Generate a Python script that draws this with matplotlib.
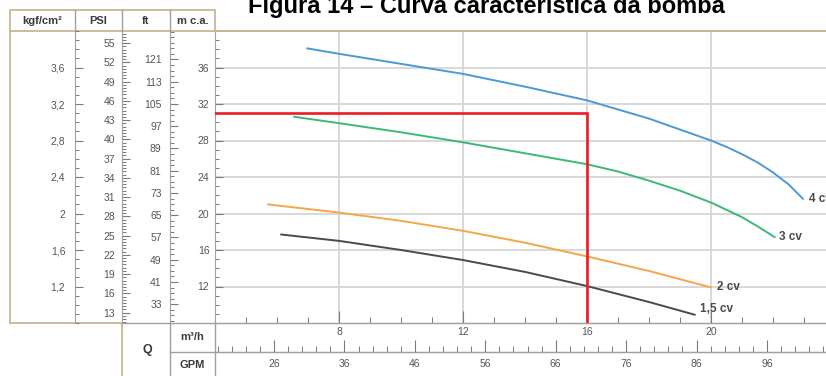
import matplotlib
matplotlib.use("Agg")
import matplotlib.pyplot as plt
import numpy as np
from matplotlib.ticker import FixedLocator

plt.rcParams['font.family'] = ['Liberation Sans', 'DejaVu Sans']

# ---------------- data ----------------
title = "Figura 14 – Curva característica da bomba"

q_4cv = [6.97, 8, 10, 12, 14, 16, 18, 19, 20, 20.5, 21, 21.5, 22.0, 22.5, 22.97]
h_4cv = [38.1, 37.5, 36.4, 35.3, 33.9, 32.4, 30.4, 29.2, 28.0, 27.3, 26.5, 25.6, 24.5, 23.2, 21.6]

q_3cv = [6.55, 8, 10, 12, 14, 16, 17, 18, 19, 20, 20.5, 21, 21.5, 22.06]
h_3cv = [30.6, 29.9, 28.9, 27.8, 26.6, 25.4, 24.6, 23.6, 22.5, 21.2, 20.4, 19.6, 18.6, 17.4]

q_2cv = [5.71, 8, 10, 12, 14, 16, 18, 20]
h_2cv = [21.0, 20.1, 19.2, 18.1, 16.8, 15.3, 13.7, 11.9]

q_15cv = [6.13, 8, 10, 12, 14, 16, 18, 19.48]
h_15cv = [17.7, 17.0, 16.0, 14.9, 13.6, 12.05, 10.3, 8.9]

curve_labels = ["4 cv", "3 cv", "2 cv", "1,5 cv"]
curve_colors = ["#4a9ad6", "#3cb878", "#f7a548", "#4a4a4a"]

op_q, op_h = 16, 31          # operating point (red lines)

m_ticks = [12, 16, 20, 24, 28, 32, 36]
kgf_ticks = [1.2, 1.6, 2.0, 2.4, 2.8, 3.2, 3.6]
kgf_labels = ["1,2", "1,6", "2", "2,4", "2,8", "3,2", "3,6"]
psi_ticks = [13, 16, 19, 22, 25, 28, 31, 34, 37, 40, 43, 46, 49, 52, 55]
ft_ticks = [33, 41, 49, 57, 65, 73, 81, 89, 97, 105, 113, 121]
q_ticks = [8, 12, 16, 20]
gpm_ticks = [26, 36, 46, 56, 66, 76, 86, 96]

M_PER_KGF = 10.0
M_PER_PSI = 0.70307
M_PER_FT = 0.3048
M3H_PER_GPM = 0.227125

# ---------------- layout ----------------
W, H = 826, 376
fig = plt.figure(figsize=(W / 100, H / 100), dpi=100)
fig.patch.set_facecolor("white")


def rect(x0, y0, x1, y1):
    return [x0 / W, 1 - y1 / H, (x1 - x0) / W, (y1 - y0) / H]


TAN = "#c8b896"
GREY = "#a0a0a0"
TICK = "#7a7a7a"
LAB = "#555555"
HEAD = "#3a3a3a"

# background frame lines
bg = fig.add_axes([0, 0, 1, 1], zorder=-10)
bg.set_xlim(0, W)
bg.set_ylim(H, 0)
bg.axis("off")
bg.plot([10, 10, 215, 215], [323, 10, 10, 31], color=TAN, lw=1.3)
bg.plot([10, 122, 122], [323, 323, 376], color=TAN, lw=1.3)
bg.plot([10, W], [31, 31], color=TAN, lw=1.3)
for xc in (75, 122, 170):
    bg.plot([xc, xc], [10, 31], color=GREY, lw=1.0)
bg.plot([122, W], [323, 323], color=GREY, lw=1.0)
bg.plot([170, 170], [323, 376], color=GREY, lw=1.0)
bg.plot([215, 215], [323, 376], color=GREY, lw=1.0)
bg.plot([170, W], [352, 352], color=GREY, lw=1.0)

# header texts
hk = dict(ha="center", va="center", fontsize=8, fontweight="bold", color=HEAD)
fig.text(42 / W, 1 - 21 / H, "kgf/cm²", **hk)
fig.text(98 / W, 1 - 21 / H, "PSI", **hk)
fig.text(146 / W, 1 - 21 / H, "ft", **hk)
fig.text(193 / W, 1 - 21 / H, "m c.a.", **hk)
fig.text(147 / W, 1 - 350 / H, "Q", ha="center", va="center", fontsize=9,
         fontweight="bold", color=HEAD)
fig.text(192 / W, 1 - 337 / H, "m³/h", **hk)
fig.text(192 / W, 1 - 365 / H, "GPM", **hk)

fig.text(486 / W, 1 - 13 / H, title, ha="center", va="baseline", fontsize=17,
         fontweight="bold", color="black")

YLIM = (8, 40)
XLIM = (4, 4 + 611 / 31)


def scale_axes(r, major_m, labels, minor_m, pad):
    a = fig.add_axes(r)
    a.set_facecolor("none")
    a.set_ylim(*YLIM)
    a.set_xticks([])
    for s in ("top", "right", "bottom"):
        a.spines[s].set_visible(False)
    a.spines["left"].set_color(GREY)
    a.yaxis.set_major_locator(FixedLocator(major_m))
    a.yaxis.set_minor_locator(FixedLocator(minor_m))
    a.set_yticklabels(labels)
    a.tick_params(axis="y", which="major", direction="in", length=6, width=0.8,
                  color=TICK, labelsize=7.5, labelcolor=LAB, pad=pad)
    a.tick_params(axis="y", which="minor", direction="in", length=3, width=0.7,
                  color=TICK)
    return a


kgf_minor = [v / 10 for v in range(8, 41)]
scale_axes(rect(75, 31, 122, 323), [k * M_PER_KGF for k in kgf_ticks], kgf_labels,
           [k * M_PER_KGF for k in kgf_minor], 7)
psi_minor = [v / 2 for v in range(22, 114)]
scale_axes(rect(122, 31, 170, 323), [p * M_PER_PSI for p in psi_ticks],
           [str(p) for p in psi_ticks], [p * M_PER_PSI for p in psi_minor], 5)
ft_minor = list(range(27, 133, 2))
scale_axes(rect(170, 31, 215, 323), [f * M_PER_FT for f in ft_ticks],
           [str(f) for f in ft_ticks], [f * M_PER_FT for f in ft_minor], 6)

# ---------------- main plot ----------------
ax = fig.add_axes(rect(215, 31, 826, 323))
ax.set_facecolor("none")
ax.set_xlim(*XLIM)
ax.set_ylim(*YLIM)
ax.spines["right"].set_visible(False)
ax.spines["top"].set_color(TAN)
ax.spines["top"].set_linewidth(1.3)
ax.spines["left"].set_color(GREY)
ax.spines["bottom"].set_color(GREY)
ax.yaxis.set_major_locator(FixedLocator(m_ticks))
ax.yaxis.set_minor_locator(FixedLocator(list(range(8, 41))))
ax.xaxis.set_major_locator(FixedLocator(q_ticks))
ax.xaxis.set_minor_locator(FixedLocator(list(range(4, 24))))
ax.tick_params(axis="y", which="major", direction="in", length=6, width=0.8,
               color=TICK, labelsize=7.5, labelcolor=LAB, pad=4)
ax.tick_params(axis="y", which="minor", direction="in", length=3, width=0.7, color=TICK)
ax.tick_params(axis="x", which="major", direction="in", length=9, width=0.8,
               color=TICK, labelsize=7.5, labelcolor=LAB, pad=3)
ax.tick_params(axis="x", which="minor", direction="in", length=4, width=0.7, color=TICK)
ax.grid(True, which="major", color="#d6d6d6", lw=1.3)
ax.set_axisbelow(True)

series = [(q_4cv, h_4cv), (q_3cv, h_3cv), (q_2cv, h_2cv), (q_15cv, h_15cv)]
offsets = [(4, 0), (3, 0), (4, 0), (4, 4)]
for (q, h), lab, col, off in zip(series, curve_labels, curve_colors, offsets):
    ax.plot(q, h, color=col, lw=1.4, solid_capstyle="round",
            solid_joinstyle="round", zorder=3)
    ax.annotate(lab, (q[-1], h[-1]), xytext=off, textcoords="offset points",
                ha="left", va="center", fontsize=8.5, fontweight="bold",
                color="#4a4a4a", annotation_clip=False)

ax.plot([XLIM[0], op_q, op_q], [op_h, op_h, YLIM[0]], color="#ec1c24", lw=1.9,
        zorder=4, solid_joinstyle="miter")

# ---------------- GPM scale ----------------
g = fig.add_axes(rect(215, 323, 826, 352))
g.set_facecolor("none")
g.set_xlim(*XLIM)
g.set_yticks([])
for s in ("top", "right", "left"):
    g.spines[s].set_visible(False)
g.spines["bottom"].set_color(GREY)
g.xaxis.set_major_locator(FixedLocator([v * M3H_PER_GPM for v in gpm_ticks]))
g.xaxis.set_minor_locator(FixedLocator([v * M3H_PER_GPM for v in range(18, 106, 2)]))
g.set_xticklabels([str(v) for v in gpm_ticks])
g.tick_params(axis="x", which="major", direction="in", length=9, width=0.8,
              color=TICK, labelsize=7.5, labelcolor=LAB, pad=5)
g.tick_params(axis="x", which="minor", direction="in", length=4, width=0.7, color=TICK)

fig.savefig("out.png", dpi=100)
